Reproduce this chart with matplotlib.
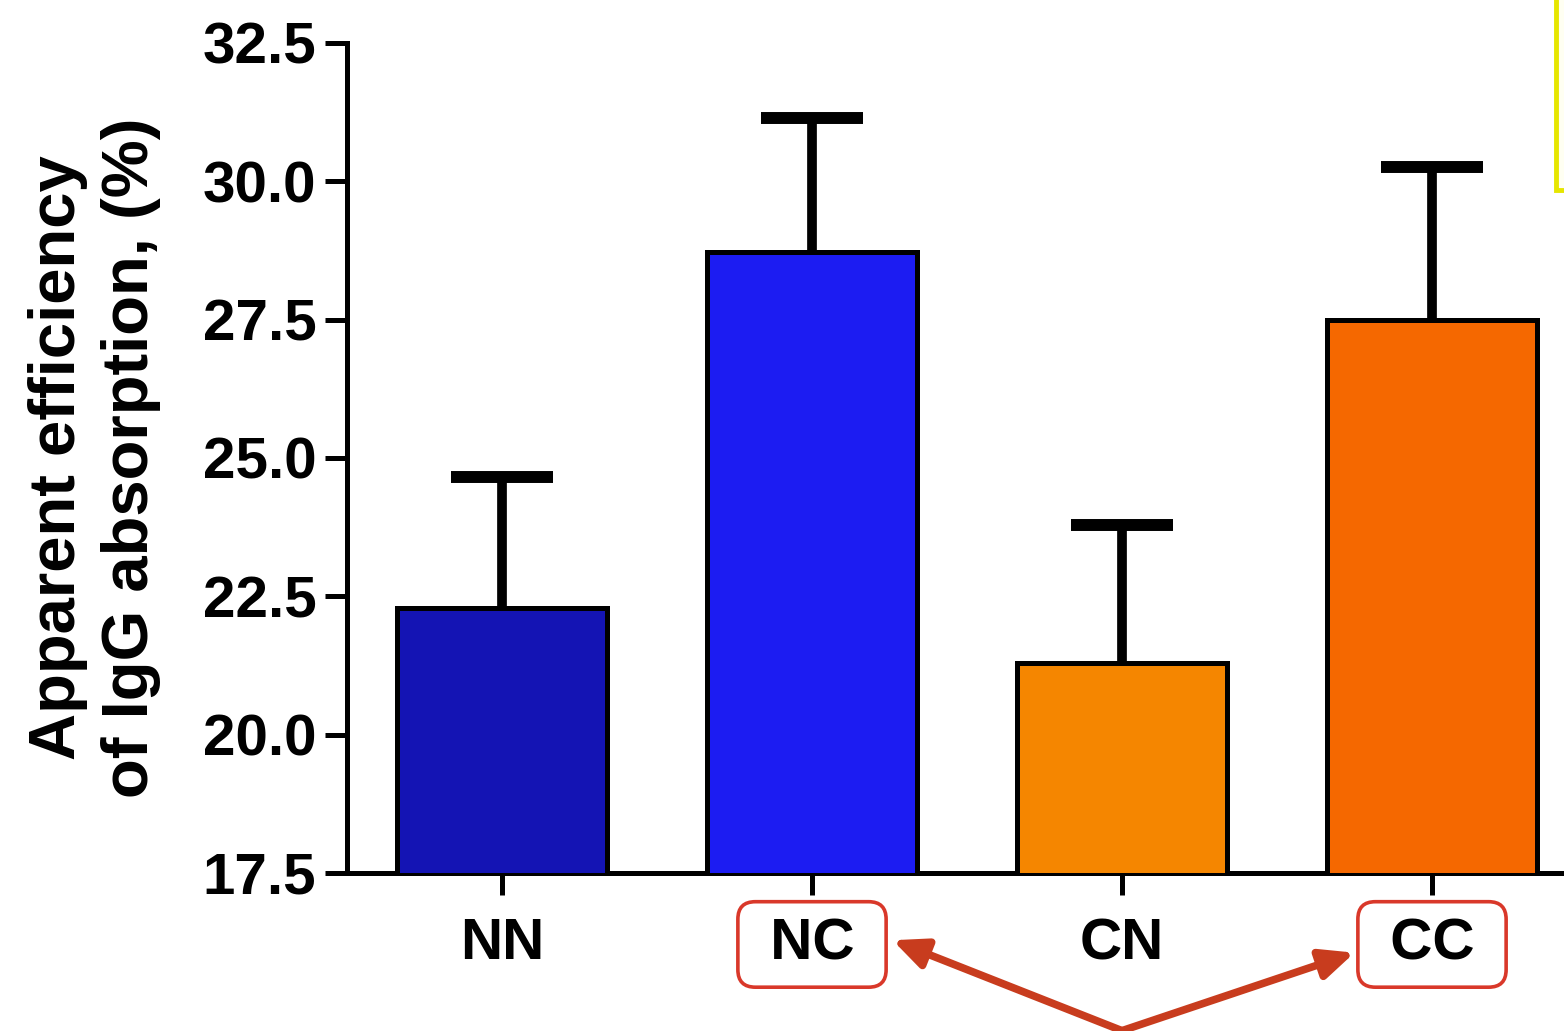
import numpy as np
import matplotlib
matplotlib.use("Agg")
import matplotlib.pyplot as plt
import matplotlib.patches as mpatches

# data
groups = ["NN", "NC", "CN", "CC"]
means = [22.29, 28.72, 21.30, 27.49]
sem = [2.37, 2.43, 2.49, 2.77]
barColors = ["#1414b4", "#1c1cf2", "#f58600", "#f56800"]
highlighted = ["NC", "CC"]

yTicks = [17.5, 20.0, 22.5, 25.0, 27.5, 30.0, 32.5]

plt.rcParams['font.family'] = ['Liberation Sans', 'DejaVu Sans']
plt.rcParams['font.weight'] = 'bold'

W, H = 1564, 1031
fig = plt.figure(figsize=(W / 100, H / 100), dpi=100)
fig.patch.set_facecolor('white')

# axes runs past the right edge like in the cropped original
ax = fig.add_axes([347 / W, (H - 873) / H, 1240 / W, 830 / H])

x_pos = np.arange(len(groups))
ax.bar(x_pos, means, width=0.68, color=barColors, edgecolor='black', linewidth=3.6, zorder=3)
eb = ax.errorbar(x_pos, means, yerr=[np.zeros(len(sem)), sem], fmt='none', ecolor='black',
                 elinewidth=7, capsize=37, capthick=8.6, zorder=2)
# only the upper cap is wanted
for cap in eb[1]:
    if np.allclose(cap.get_ydata(), means):
        cap.set_visible(False)

ax.set_xlim(-0.5, 3.5)
ax.set_ylim(yTicks[0], yTicks[-1])
ax.set_yticks(yTicks)
ax.set_yticklabels(["%.1f" % t for t in yTicks])
ax.set_xticks(x_pos)
ax.set_xticklabels([" %s " % g if g in highlighted else g for g in groups])

for s in ['top', 'right']:
    ax.spines[s].set_visible(False)
for s in ['left', 'bottom']:
    ax.spines[s].set_linewidth(3.6)

ax.tick_params(axis='both', direction='out', length=16, width=3.6, labelsize=42)
ax.tick_params(axis='y', pad=6)
ax.tick_params(axis='x', pad=16)

ax.set_ylabel("Apparent efficiency\nof IgG absorption, (%)", fontsize=47, fontweight='bold', linespacing=1.27)
ax.yaxis.set_label_coords(-0.15, 0.5)

boxColor = '#d9382a'
for lbl in ax.get_xticklabels():
    if lbl.get_text().strip() in highlighted:
        lbl.set_bbox(dict(boxstyle='round,pad=0.27,rounding_size=0.3', fc='white', ec=boxColor, lw=2.6))

# arrows pointing at the highlighted groups
arrowColor = '#c83c1e'
trans = ax.get_xaxis_transform()
arrowStyle = dict(arrowstyle='-|>,head_length=1.0,head_width=0.45', mutation_scale=20,
                  color=arrowColor, lw=5.5, shrinkA=0, shrinkB=0)
ax.annotate("", xy=(1.26, -0.081), xytext=(2.0, -0.19), xycoords=trans, textcoords=trans,
            arrowprops=arrowStyle, annotation_clip=False)
ax.annotate("", xy=(2.75, -0.096), xytext=(2.0, -0.19), xycoords=trans, textcoords=trans,
            arrowprops=arrowStyle, annotation_clip=False)

# edge of the yellow note at top right
fig.patches.append(mpatches.Rectangle((1556 / W, 1 - 190 / H), 0.05, 0.25, transform=fig.transFigure,
                                      fc='#fffff2', ec='#e6e600', lw=3.5, zorder=0))

fig.savefig("out.png", dpi=100)
